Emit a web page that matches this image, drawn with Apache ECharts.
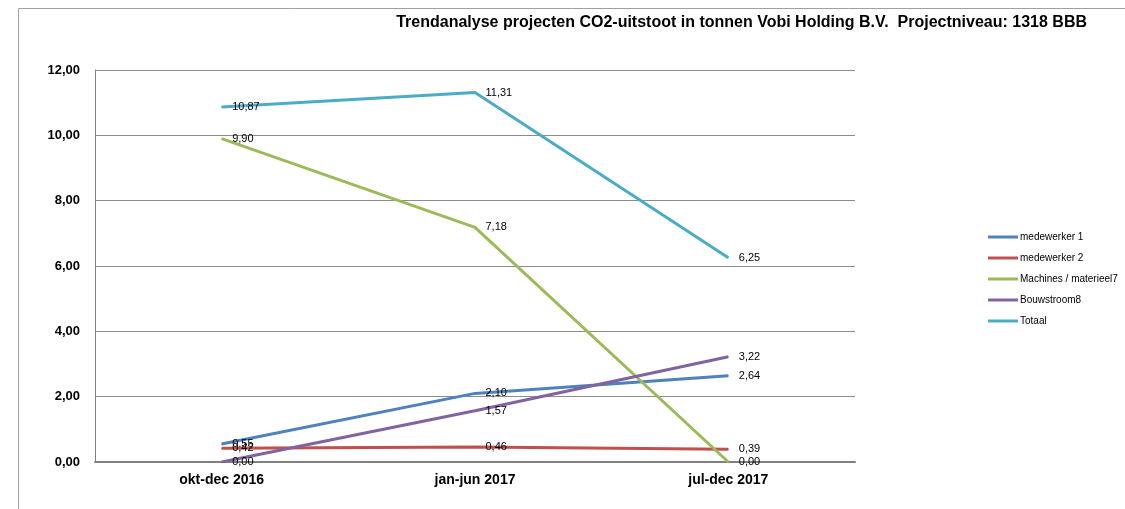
<!DOCTYPE html>
<html><head><meta charset="utf-8">
<script src="https://cdn.jsdelivr.net/npm/echarts@6/dist/echarts.min.js"></script>
<style>html,body{margin:0;padding:0;background:#fff}#c{width:1125px;height:509px}</style>
</head><body><div id="c"></div>
<script>
const categories = ['okt-dec 2016', 'jan-jun 2017', 'jul-dec 2017'];
const seriesNames = ['medewerker 1', 'medewerker 2', 'Machines / materieel7', 'Bouwstroom8', 'Totaal'];
const medewerker1 = [0.55, 2.10, 2.64];
const medewerker2 = [0.42, 0.46, 0.39];
const machines = [9.90, 7.18, 0.00];
const bouwstroom = [0.00, 1.57, 3.22];
const totaal = [10.87, 11.31, 6.25];
const yTicks = [0, 2, 4, 6, 8, 10, 12];
const colors = ['#4F81BD', '#C0504D', '#9BBB59', '#8064A2', '#4BACC6'];
const allData = [medewerker1, medewerker2, machines, bouwstroom, totaal];
const fmt = v => v.toFixed(2).replace('.', ',');
const chart = echarts.init(document.getElementById('c'));
chart.setOption({
  animation: false,
  title: {
    text: 'Trendanalyse projecten CO2-uitstoot in tonnen Vobi Holding B.V.  Projectniveau: 1318 BBB',
    right: 33, top: 10,
    textStyle: {fontFamily: 'Liberation Sans', fontWeight: 'bold', fontSize: 16, color: '#000'}
  },
  legend: {
    orient: 'vertical', left: 983, top: 227, itemGap: 11, itemWidth: 30, itemHeight: 12,
    icon: 'path://M0,5 L30,5 L30,8 L0,8 Z',
    itemStyle: {opacity: 1},
    textStyle: {fontFamily: 'Liberation Sans', fontSize: 10, color: '#000', padding: [0,0,0,-3]},
    data: seriesNames
  },
  grid: {left: 95, right: 270, top: 70, bottom: 47, containLabel: false},
  xAxis: {
    type: 'category', data: categories, boundaryGap: true,
    axisLine: {lineStyle: {color: '#808080', width: 2}},
    axisTick: {show: false},
    axisLabel: {fontFamily: 'Liberation Sans', fontWeight: 'bold', fontSize: 14, color: '#000', margin: 11}
  },
  yAxis: {
    type: 'value', min: yTicks[0], max: yTicks[yTicks.length-1], interval: 2,
    axisLine: {show: true, lineStyle: {color: '#808080', width: 1}},
    axisTick: {show: false},
    splitLine: {lineStyle: {color: '#8c8c8c', width: 1}},
    axisLabel: {fontFamily: 'Liberation Sans', fontWeight: 'bold', fontSize: 13, color: '#000', margin: 15, formatter: v => fmt(v)}
  },
  graphic: [
    {type: 'line', shape: {x1: 18.5, y1: 8.5, x2: 1125, y2: 8.5}, style: {stroke: '#a0a0a0', lineWidth: 1}},
    {type: 'line', shape: {x1: 18.5, y1: 8.5, x2: 18.5, y2: 509}, style: {stroke: '#a0a0a0', lineWidth: 1}}
  ],
  series: seriesNames.map((n, i) => ({
    name: n, type: 'line', data: allData[i], color: colors[i],
    symbol: 'circle', symbolSize: 1, showSymbol: true,
    itemStyle: {color: colors[i]},
    lineStyle: {width: 3, color: colors[i]},
    label: {show: true, position: 'right', distance: 10, fontFamily: 'Liberation Sans', fontSize: 11, color: '#000', formatter: p => fmt(p.value)},
    labelLayout: {hideOverlap: false},
    z: 2 + i
  }))
});
</script></body></html>
